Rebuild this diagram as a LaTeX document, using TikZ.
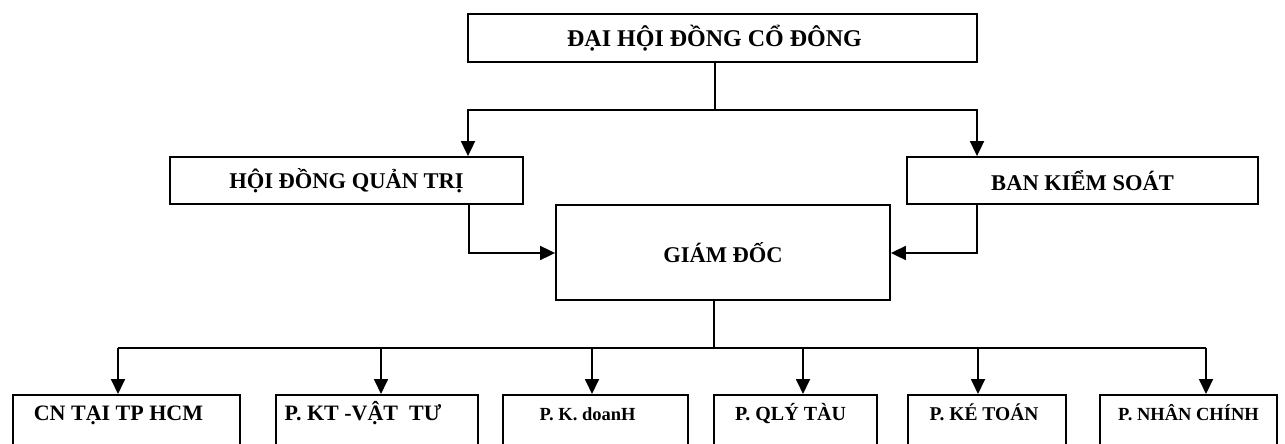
\documentclass[tikz,border=0pt]{standalone}
\usepackage{fontspec}
\setmainfont{Liberation Serif}
\usetikzlibrary{arrows.meta}
\tikzset{
  box/.style={draw, line width=1.8pt, inner sep=0pt, font=\bfseries},
  botbox/.style={box, anchor=north, text height=26pt, text depth=60pt},
  conn/.style={line width=1.8pt},
  arr/.style={conn, -{Triangle[length=15pt,width=14pt]}}
}
\newcommand{\fs}[1]{\fontsize{#1}{#1}\selectfont}
\newcommand{\lsh}[1]{\hspace*{#1}}
\begin{document}
\begin{tikzpicture}[x=1pt,y=-1pt]
\useasboundingbox (0,0) rectangle (1285,444);
\clip (0,0) rectangle (1285,444);
% top
\node[box, minimum width=509pt, minimum height=48pt] (dh) at (722.5,38) {\fs{24}ĐẠI HỘI ĐỒNG CỔ ĐÔNG\lsh{16pt}};
\node[box, minimum width=353pt, minimum height=47pt] (hd) at (346.5,180.5) {\fs{22.5}HỘI ĐỒNG QUẢN TRỊ};
\node[box, minimum width=351pt, minimum height=47pt] (bk) at (1082.5,180.5) {\fs{22.5}BAN KIỂM SOÁT};
\node[box, minimum width=334pt, minimum height=95pt] (gd) at (723,252.5) {\fs{22.5}GIÁM ĐỐC};
% bottom
\node[botbox, minimum width=227pt] (b1) at (126.5,394) {\fs{22}CN TẠI TP HCM\lsh{16pt}};
\node[botbox, minimum width=202pt] (b2) at (377,394) {\fs{22}P. KT -VẬT\ \ TƯ\lsh{28pt}};
\node[botbox, minimum width=185pt] (b3) at (595.5,394) {\fs{18.5}P. K. doanH\lsh{16pt}};
\node[botbox, minimum width=163pt] (b4) at (795.5,394) {\fs{20}P. QLÝ TÀU\lsh{10pt}};
\node[botbox, minimum width=158pt] (b5) at (987,394) {\fs{19.5}P. KÉ TOÁN\lsh{6pt}};
\node[botbox, minimum width=177pt] (b6) at (1188.5,394) {\fs{18.5}P. NHÂN CHÍNH};
% top connectors
\coordinate (t1) at (715,110);
\draw[conn] (dh.south -| t1) -- (t1);
\draw[arr] (t1) -- (468,110) -- (hd.north -| 468,0);
\draw[arr] (t1) -- (977,110) -- (bk.north -| 977,0);
% to GD
\coordinate (l1) at (469,253);
\coordinate (r1) at (977,253);
\draw[arr] (hd.south -| l1) -- (l1) -- (l1 -| gd.west);
\draw[arr] (bk.south -| r1) -- (r1) -- (r1 -| gd.east);
% bottom bus
\coordinate (m1) at (714,348);
\draw[conn] (gd.south -| m1) -- (m1);
\draw[conn] (118,348) -- (1206,348);
\draw[arr] (118,348) -- (b1.north -| 118,0);
\draw[arr] (381,348) -- (b2.north -| 381,0);
\draw[arr] (592,348) -- (b3.north -| 592,0);
\draw[arr] (803,348) -- (b4.north -| 803,0);
\draw[arr] (978,348) -- (b5.north -| 978,0);
\draw[arr] (1206,348) -- (b6.north -| 1206,0);
\end{tikzpicture}
\end{document}
